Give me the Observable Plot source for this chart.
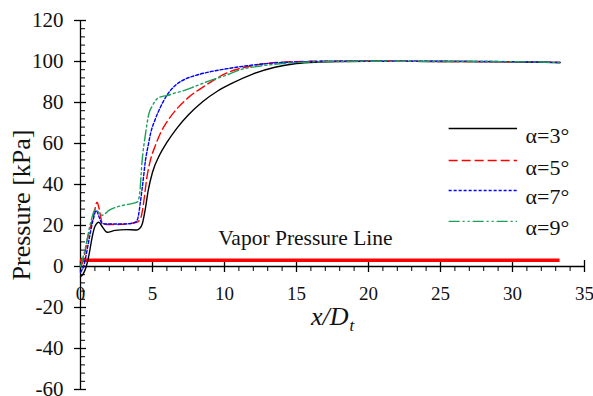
<!DOCTYPE html>
<html><head><meta charset="utf-8">
<script src="https://cdn.jsdelivr.net/npm/d3@7"></script>
<script src="https://cdn.jsdelivr.net/npm/@observablehq/plot@0.6"></script>
<style>body{margin:0;background:#fff;font-family:"Liberation Serif",serif}</style>
</head><body><div id="chart"></div>
<script>
// ---- data ----
const series = ["α=3°", "α=5°", "α=7°", "α=9°"];
const x3 = [0, 0.2, 0.4, 0.6, 0.8, 1.0, 1.27, 1.5, 1.85, 2.4, 3.2, 3.9, 4.1, 4.3, 4.5, 4.7, 5.0, 5.5, 6.0, 6.7, 7.5, 8.5, 9.5, 10.5, 12, 13.5, 15, 16.5, 18, 20, 25, 30, 33.3];
const p3 = [-5, -3.5, 0, 6, 14, 19.5, 21.6, 19.5, 16.7, 17.6, 18, 17.8, 18.5, 21, 28, 37, 46, 54.5, 60.5, 67.5, 74, 80.5, 85.5, 89.3, 94, 97.2, 99, 99.7, 100, 100.1, 100, 99.9, 99.5];
const x5 = [0, 0.2, 0.46, 0.81, 1.0, 1.15, 1.3, 1.5, 1.8, 2.5, 3.2, 3.9, 4.2, 4.4, 4.6, 4.86, 5.2, 5.55, 6.0, 6.7, 7.5, 8.5, 10.2, 11.5, 12.5, 14, 16, 18, 20, 25, 30, 33.3];
const p5 = [0, 3, 12.7, 22.4, 28, 31.4, 28, 21.5, 20.5, 20.5, 20.8, 21.5, 24, 32, 43, 52, 59, 65, 70.5, 77, 82.5, 87.5, 94.5, 97.3, 98.7, 99.7, 100.1, 100.2, 100.2, 100, 99.9, 99.5];
const x7 = [0, 0.23, 0.58, 0.85, 1.1, 1.3, 1.5, 2.0, 2.8, 3.5, 3.85, 4.0, 4.17, 4.35, 4.51, 4.7, 4.86, 5.2, 5.55, 6.0, 6.7, 7.3, 7.9, 9, 10.2, 12, 14, 16, 18, 20, 25, 30, 33.3];
const p7 = [-2.8, 0.5, 12.7, 22, 27.3, 24, 21, 20.7, 20.7, 21, 21.8, 24, 32, 42, 51.7, 59, 64.7, 72, 77.7, 83.5, 89, 91.5, 93, 95, 96.5, 98.3, 99.5, 100, 100.2, 100.2, 100.1, 99.9, 99.5];
const x9 = [0, 0.35, 0.69, 1.04, 1.25, 1.5, 2.0, 2.5, 3.2, 3.7, 3.95, 4.1, 4.28, 4.5, 4.75, 5.0, 5.32, 5.7, 6.02, 6.5, 7.17, 8, 9, 10, 11.3, 12.5, 14, 16, 18, 20, 25, 30, 33.3];
const p9 = [0, 9.4, 21, 27.8, 26.5, 25, 27.5, 29, 30.2, 30.9, 31.5, 35, 51.7, 64, 74.5, 78.5, 81.8, 83, 83.4, 84.5, 85.8, 88, 90.7, 93, 96.4, 97.8, 99, 99.8, 100, 100.1, 100, 99.9, 99.5];
const vaporPressure = 3;      // kPa
const vaporRange = [0, 33.3]; // x/Dt
const xTicks = [0, 5, 10, 15, 20, 25, 30, 35];
const yTicks = [-60, -40, -20, 0, 20, 40, 60, 80, 100, 120];

// ---- styles ----
const colors = ["#000000", "#ff0000", "#0000ff", "#18a058"];
const dashes = [null, "9,4", "3,2", "11,3,2,3,2,3"];
const font = "Liberation Serif";

const xs = [x3, x5, x7, x9], ps = [p3, p5, p7, p9];
const rows = series.flatMap((s, i) => xs[i].map((x, j) => ({s, i, x, p: ps[i][j]})));

const xMinor = d3.range(0, 35.01, 1).filter(v => !xTicks.includes(v));
const yMinor = d3.range(-60, 120.01, 4).filter(v => !yTicks.includes(v));

// pixel-to-unit helpers for tick lengths and legend placement
const W = 593, H = 396, mL = 80, mR = 9, mT = 20, mB = 7;
const ux = 35 / (W - mL - mR), uy = 180 / (H - mT - mB);
const legendX1 = 25.6, legendX2 = 30.35, legendTextX = 30.9;
const legendY = [67.3, 51.7, 37.1, 22.0];

const marks = [
  Plot.ruleX([0], {y1: -60, y2: 120, stroke: "#000", strokeWidth: 1.3}),
  Plot.ruleY([0], {x1: 0, x2: 35, stroke: "#000", strokeWidth: 1.3}),
  Plot.ruleY(yTicks, {x1: -6 * ux, x2: 6 * ux, stroke: "#000", strokeWidth: 1.3}),
  Plot.ruleY(yMinor, {x1: 0, x2: 5 * ux, stroke: "#000", strokeWidth: 1}),
  Plot.ruleX(xTicks, {y1: -6 * uy, y2: 6 * uy, stroke: "#000", strokeWidth: 1.3}),
  Plot.ruleX(xMinor, {y1: 0, y2: -5 * uy, stroke: "#000", strokeWidth: 1}),
  Plot.text(yTicks, {x: 0, y: d => d, text: d => String(d), textAnchor: "end", dx: -17, fontSize: 21, fill: "#111"}),
  Plot.text(xTicks, {x: d => d, y: 0, text: d => String(d), lineAnchor: "bottom", dy: 33, fontSize: 19, fill: "#111"}),
  Plot.text(["Pressure [kPa]"], {frameAnchor: "left", textAnchor: "middle", dx: -59, rotate: -90, fontSize: 26, fill: "#111"}),
  Plot.text(["x/D"], {x: (348 - mL) * ux, y: 0, textAnchor: "end", lineAnchor: "bottom", dy: 58, fontSize: 26, fontStyle: "italic", fill: "#111"}),
  Plot.text(["t"], {x: (349 - mL) * ux, y: 0, textAnchor: "start", lineAnchor: "bottom", dy: 64, fontSize: 17, fontStyle: "italic", fill: "#111"}),
  Plot.ruleY([vaporPressure], {x1: vaporRange[0], x2: vaporRange[1], stroke: "#ff0000", strokeWidth: 3.5}),
  Plot.text(["Vapor Pressure Line"], {x: 21.67, y: vaporPressure, textAnchor: "end", lineAnchor: "bottom", dy: -15, fontSize: 21.5, fill: "#111"}),
  ...series.map((s, i) => Plot.line(rows.filter(r => r.i === i), {
    x: "x", y: "p", stroke: colors[i], strokeWidth: 1.4, strokeDasharray: dashes[i], curve: "monotone-x"
  })),
  ...series.map((s, i) => Plot.ruleY([legendY[i]], {x1: legendX1, x2: legendX2, stroke: colors[i], strokeWidth: 1.4, strokeDasharray: dashes[i]})),
  Plot.text(series, {x: legendTextX, y: (d, i) => legendY[i], text: d => d, textAnchor: "start", dy: 7, fontSize: 22, fill: "#111"})
];

const chart = Plot.plot({
  width: W, height: H,
  marginLeft: mL, marginRight: mR, marginTop: mT, marginBottom: mB,
  x: {domain: [0, 35], axis: null},
  y: {domain: [-60, 120], axis: null},
  style: {background: "#fff", overflow: "visible"},
  marks
});
d3.select(chart).attr("font-family", font).style("font-family", font);
d3.select(chart).selectAll("g").attr("font-family", font);
d3.select(chart).selectAll("text").attr("font-family", font).style("font-family", font);
document.getElementById("chart").append(chart);
</script>
</body></html>
